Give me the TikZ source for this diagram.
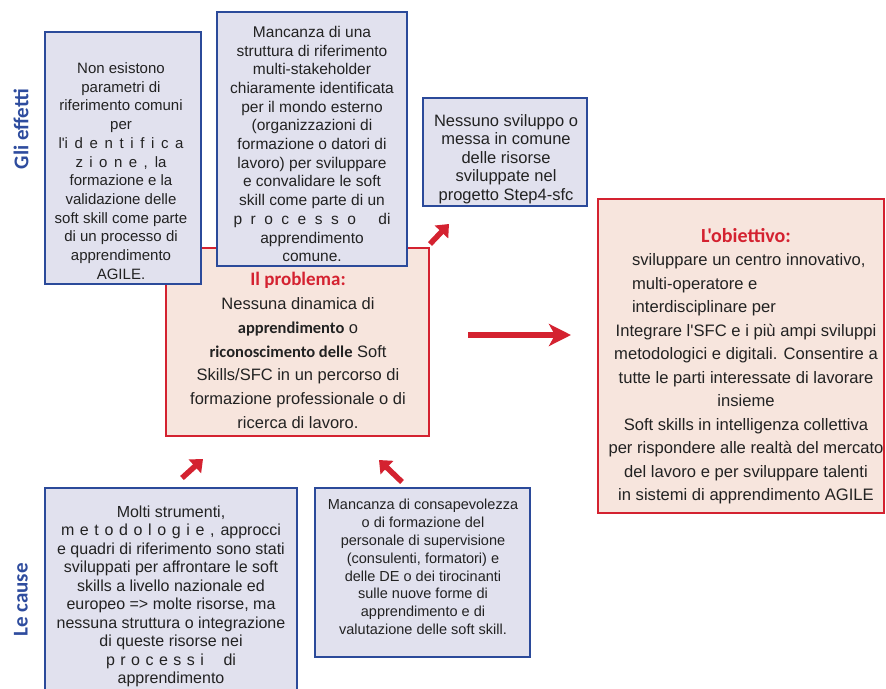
\documentclass[tikz,border=0pt]{standalone}
\usepackage{fontspec}
\setmainfont{Liberation Sans}[Ligatures=TeXOff]
\newfontfamily\headfont{Carlito}[Ligatures=TeXOff]
\usetikzlibrary{arrows.meta}

\definecolor{boxblue}{HTML}{2B4A9A}
\definecolor{boxlav}{HTML}{E1E1EE}
\definecolor{redline}{HTML}{D42230}
\definecolor{pinkfill}{HTML}{F7E5DD}
\definecolor{labelblue}{HTML}{2E4C9E}
\definecolor{txtgray}{HTML}{222222}

\tikzset{
  bluebox/.style={draw=boxblue, fill=boxlav, line width=2.4pt, inner sep=0pt},
  redbox/.style={draw=redline, fill=pinkfill, line width=2.2pt, inner sep=0pt},
  txt/.style={inner sep=0pt, align=center, text=txtgray},
  sidelabel/.style={rotate=90, text=labelblue, inner sep=0pt, font=\headfont\bfseries\fontsize{21}{23}\selectfont},
  smallarrow/.style={draw=redline, line width=5.5pt, -{Triangle[length=11pt,width=18pt]}},
  bigarrow/.style={draw=redline, line width=6pt, -{Stealth[length=22pt,width=22pt,inset=6pt]}},
}

\newcommand{\redhead}[1]{{\headfont\bfseries\color{redline}#1}}
\newcommand{\boldpart}[1]{{\headfont\bfseries #1}}
% a line whose spaces are stretched to a given width
\newcommand{\spreadline}[2]{\makebox[#1][s]{#2}}

\begin{document}
\begin{tikzpicture}[x=1pt, y=-1pt]
\useasboundingbox (0,0) rectangle (886,688);
\clip (0,0) rectangle (886,688);
\fill[white] (0,0) rectangle (886,688);

% side labels
\node[sidelabel] (effetti) at (21,129) {Gli effetti};
\node[sidelabel] (cause) at (21,600) {Le cause};

% central problem box (drawn first, the effect boxes overlap it)
\node[redbox, minimum width=263pt, minimum height=188pt] (prob) at (297.5,342) {};
\node[txt, font=\fontsize{16.5}{23.8}\selectfont] (probtxt) at (298,350.5)
  {\redhead{\fontsize{19}{23.8}\selectfont Il problema:}\\
   Nessuna dinamica di\\
   \boldpart{apprendimento} o\\
   \boldpart{riconoscimento delle} Soft\\
   Skills/SFC in un percorso di\\
   formazione professionale o di\\
   ricerca di lavoro.};

% effects
\node[bluebox, minimum width=156pt, minimum height=252pt] (eff1) at (123,158) {};
\node[txt, font=\fontsize{15}{18.7}\selectfont] (eff1txt) at (121,171)
  {Non esistono\\
   parametri di\\
   riferimento comuni\\
   per\\
   \spreadline{125pt}{l'i d e n t i f i c a}\\
   \spreadline{91pt}{z i o n e , la}\\
   formazione e la\\
   validazione delle\\
   soft skill come parte\\
   di un processo di\\
   apprendimento\\
   AGILE.};

\node[bluebox, minimum width=190pt, minimum height=254pt] (eff2) at (312,139) {};
\node[txt, font=\fontsize{15.5}{18.7}\selectfont] (eff2txt) at (312,144)
  {Mancanza di una\\
   struttura di riferimento\\
   multi-stakeholder\\
   chiaramente identificata\\
   per il mondo esterno\\
   (organizzazioni di\\
   formazione o datori di\\
   lavoro) per sviluppare\\
   e convalidare le soft\\
   skill come parte di un\\
   \spreadline{157pt}{p r o c e s s o\hspace{14pt} di}\\
   apprendimento\\
   comune.};

\node[bluebox, minimum width=164pt, minimum height=108pt] (eff3) at (505,152) {};
\node[txt, font=\fontsize{16.5}{18.6}\selectfont] (eff3txt) at (506,159)
  {Nessuno sviluppo o\\
   messa in comune\\
   delle risorse\\
   sviluppate nel\\
   progetto Step4-sfc};

% causes
\node[bluebox, minimum width=252pt, minimum height=212pt] (cau1) at (171,594) {};
\node[txt, font=\fontsize{16}{18.5}\selectfont] (cau1txt) at (171,596.5)
  {Molti strumenti,\\
   \spreadline{220pt}{m e t o d o l o g i e , approcci}\\
   e quadri di riferimento sono stati\\
   sviluppati per affrontare le soft\\
   skills a livello nazionale ed\\
   europeo => molte risorse, ma\\
   nessuna struttura o integrazione\\
   di queste risorse nei\\
   \spreadline{130pt}{p r o c e s s i\hspace{14pt} di}\\
   apprendimento};

\node[bluebox, minimum width=215pt, minimum height=169pt] (cau2) at (422.5,572.5) {};
\node[txt, font=\fontsize{14.5}{17.8}\selectfont] (cau2txt) at (423,567)
  {Mancanza di consapevolezza\\
   o di formazione del\\
   personale di supervisione\\
   (consulenti, formatori) e\\
   delle DE o dei tirocinanti\\
   sulle nuove forme di\\
   apprendimento e di\\
   valutazione delle soft skill.};

% objective
\node[redbox, minimum width=286pt, minimum height=314pt] (obj) at (741,356) {};
\node[txt, font=\fontsize{16.6}{23.5}\selectfont] (objtxt) at (746,366)
  {\redhead{\fontsize{20}{23.5}\selectfont L'obiettivo:}\\
   \makebox[228pt][l]{sviluppare un centro innovativo,}\\
   \makebox[228pt][l]{multi-operatore e}\\
   \makebox[228pt][l]{interdisciplinare per}\\
   Integrare l'SFC e i più ampi sviluppi\\
   metodologici e digitali. Consentire a\\
   tutte le parti interessate di lavorare\\
   insieme\\
   Soft skills in intelligenza collettiva\\
   per rispondere alle realtà del mercato\\
   del lavoro e per sviluppare talenti\\
   in sistemi di apprendimento AGILE};

% arrows
\coordinate (e3from) at (430,244);
\coordinate (e3to)   at (449,224);
\coordinate (c1from) at (182,478);
\coordinate (c1to)   at (203,459);
\coordinate (c2from) at (402,482);
\coordinate (c2to)   at (379,460);
\coordinate (pfrom)  at (468,335);
\coordinate (pto)    at (571,335);

\draw[smallarrow] (e3from) -- (e3to);
\draw[smallarrow] (c1from) -- (c1to);
\draw[smallarrow] (c2from) -- (c2to);
\draw[bigarrow] (pfrom) -- (pto);
\end{tikzpicture}
\end{document}
